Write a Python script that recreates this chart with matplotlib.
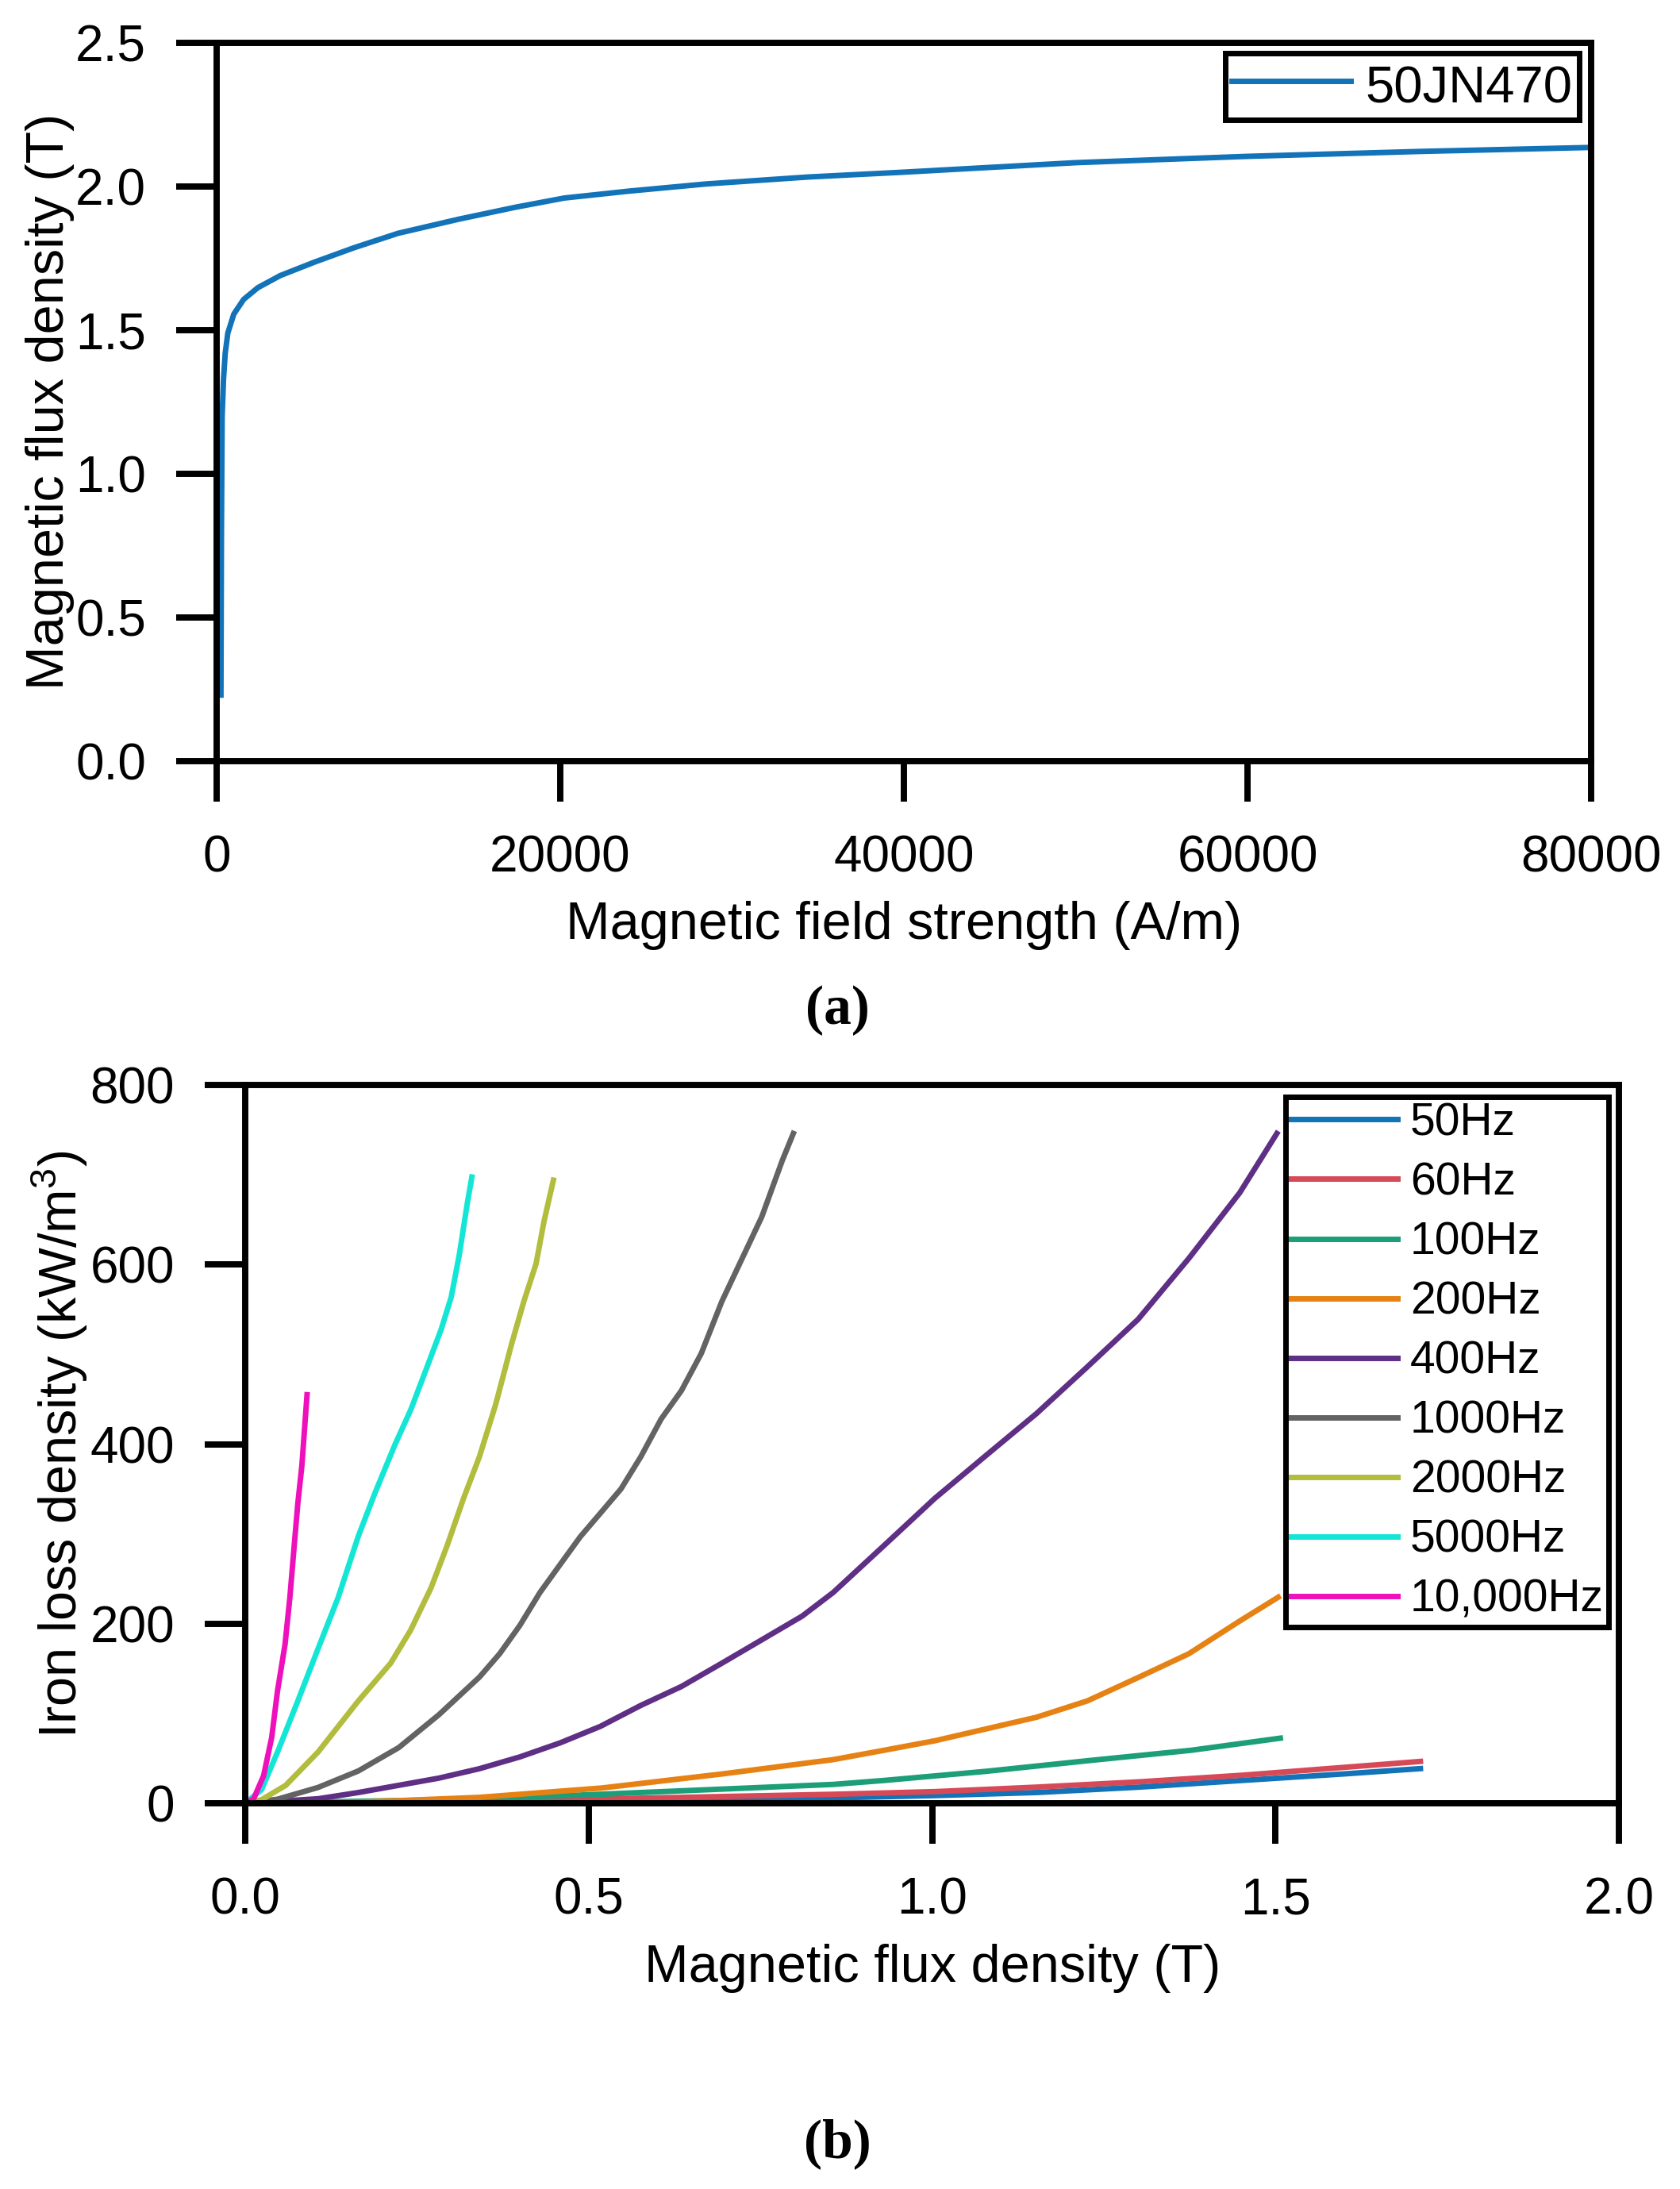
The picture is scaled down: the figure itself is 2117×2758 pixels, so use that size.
import numpy as np
import matplotlib
matplotlib.use('Agg')
import matplotlib.pyplot as plt
from matplotlib.ticker import FormatStrFormatter

plt.rcParams['font.family'] = ['Liberation Sans', 'DejaVu Sans']
plt.rcParams['mathtext.fontset'] = 'custom'
plt.rcParams['mathtext.rm'] = 'Liberation Sans'
plt.rcParams['mathtext.it'] = 'Liberation Sans:italic'

# (a) curva B-H del 50JN470
H_am = [250, 280, 320, 400, 500, 650, 1000, 1570, 2400, 3700, 5700, 8000, 10550,
        14070, 17400, 20240, 24000, 28500, 34400, 40000, 50000, 60000, 70000, 80000]
B_t = [0.23, 0.80, 1.20, 1.33, 1.42, 1.49, 1.556, 1.607, 1.648, 1.69, 1.737, 1.787, 1.837,
       1.886, 1.928, 1.96, 1.984, 2.009, 2.033, 2.05, 2.083, 2.105, 2.122, 2.136]

# (b) perdidas en el hierro por frecuencia
B50 = [0.0, 0.3, 0.5, 0.856, 1.005, 1.153, 1.302, 1.451, 1.6, 1.711]
P50 = [0.0, 1.5, 3.0, 6.0, 8.6, 12.0, 18.0, 25.4, 32.7, 38.6]
B60 = [0.0, 0.3, 0.5, 0.856, 1.005, 1.153, 1.302, 1.451, 1.6, 1.711]
P60 = [0.0, 2.0, 4.5, 10.0, 13.0, 18.0, 23.9, 31.2, 40.0, 46.6]
B100 = [0.0, 0.3, 0.5, 0.856, 0.930, 1.079, 1.228, 1.377, 1.507]
P100 = [0.0, 4.0, 9.5, 21.0, 25.4, 35.6, 47.5, 59.0, 72.5]
B200 = [0.0, 0.16, 0.341, 0.519, 0.696, 0.856, 0.930, 1.004, 1.078, 1.152, 1.226, 1.300, 1.374, 1.448, 1.504]
P200 = [0.0, 1.0, 6.6, 17.0, 32.8, 48.6, 59.0, 69.6, 82.7, 95.8, 114.0, 140.0, 166.6, 203.0, 229.5]
B400 = [0.0, 0.106, 0.165, 0.2235, 0.282, 0.341, 0.3998, 0.4586, 0.517, 0.576, 0.635, 0.694,
        0.752, 0.811, 0.856, 0.930, 1.004, 1.078, 1.152, 1.226, 1.300, 1.374, 1.448, 1.502]
P400 = [0.0, 5.0, 12.0, 20.0, 28.0, 38.5, 51.6, 67.3, 85.6, 109.0, 130.0, 156.0,
        182.0, 208.5, 234.7, 287.0, 339.6, 387.0, 434.0, 486.0, 539.0, 607.0, 680.0, 746.0]
B1000 = [0.0, 0.047, 0.106, 0.1647, 0.2235, 0.282, 0.341, 0.3705, 0.3998, 0.429, 0.4586, 0.488,
         0.517, 0.547, 0.576, 0.6056, 0.635, 0.664, 0.694, 0.723, 0.752, 0.782, 0.798]
P1000 = [0.0, 4.5, 17.6, 36.0, 62.0, 98.6, 140.5, 166.6, 198.0, 234.6, 266.0, 297.0,
         323.0, 350.0, 386.0, 428.0, 459.5, 501.0, 559.0, 606.0, 653.0, 716.0, 746.0]
B2000 = [0.0, 0.024, 0.059, 0.106, 0.1647, 0.2118, 0.241, 0.2706, 0.294, 0.3176, 0.341,
         0.3646, 0.388, 0.4057, 0.4235, 0.435, 0.4487]
P2000 = [0.0, 4.0, 20.0, 57.0, 114.0, 156.0, 193.0, 240.0, 287.0, 339.0, 386.0,
         444.0, 512.0, 559.0, 601.0, 648.0, 694.0]
B5000 = [0.0, 0.0237, 0.047, 0.0766, 0.106, 0.1355, 0.1647, 0.1884, 0.2178, 0.2412, 0.2648,
         0.2854, 0.300, 0.3117, 0.3235, 0.330]
P5000 = [0.0, 15.0, 57.0, 114.0, 172.0, 229.5, 297.5, 344.6, 399.0, 438.6, 486.0,
         528.0, 564.0, 611.0, 669.0, 697.5]
B10000 = [0.0, 0.012, 0.0267, 0.0385, 0.047, 0.058, 0.065, 0.0708, 0.0766, 0.0825, 0.090]
P10000 = [0.0, 4.5, 30.5, 73.0, 125.0, 177.0, 229.0, 282.0, 334.0, 376.0, 455.0]

series_b = [
    ('50Hz', B50, P50, '#1273B9'),
    ('60Hz', B60, P60, '#D64A58'),
    ('100Hz', B100, P100, '#1C9E78'),
    ('200Hz', B200, P200, '#E68214'),
    ('400Hz', B400, P400, '#5F2F86'),
    ('1000Hz', B1000, P1000, '#636363'),
    ('2000Hz', B2000, P2000, '#B2BC3D'),
    ('5000Hz', B5000, P5000, '#14E6D6'),
    ('10,000Hz', B10000, P10000, '#EE10BA'),
]

W, Hpx = 2117, 2758
fig = plt.figure(figsize=(W / 100, Hpx / 100), dpi=100)

ax1 = fig.add_axes([273 / W, 1 - 959 / Hpx, (2005 - 273) / W, 905 / Hpx])
ax2 = fig.add_axes([309 / W, 1 - 2272 / Hpx, (2040 - 309) / W, 905 / Hpx])

for ax in (ax1, ax2):
    for s in ax.spines.values():
        s.set_linewidth(5.7)
    ax.tick_params(direction='out', length=37, width=5.7, labelsize=46)
    ax.tick_params(axis='x', pad=29.5)
    ax.tick_params(axis='y', pad=27)

# grafica (a)
ax1.plot(H_am, B_t, color='#1273B9', lw=5, label='50JN470')
ax1.set_xlim(0, 80000)
ax1.set_ylim(0, 2.5)
ax1.set_xticks([0, 20000, 40000, 60000, 80000])
ax1.set_yticks([0, 0.5, 1.0, 1.5, 2.0, 2.5])
ax1.yaxis.set_major_formatter(FormatStrFormatter('%.1f'))
ax1.set_xlabel('Magnetic field strength (A/m)', fontsize=48, va='baseline')
ax1.xaxis.set_label_coords(1139 / W, 1 - 1183 / Hpx, transform=fig.transFigure)
ax1.set_ylabel('Magnetic flux density (T)', fontsize=48, va='baseline', rotation_mode='anchor')
ax1.yaxis.set_label_coords(80 / W, 1 - 506 / Hpx, transform=fig.transFigure)
leg1 = ax1.legend(loc='upper right', bbox_to_anchor=(1989.5 / W, 1 - 66.5 / Hpx),
                  bbox_transform=fig.transFigure, borderaxespad=0, fontsize=47,
                  fancybox=False, framealpha=1, edgecolor='black', borderpad=0.12,
                  handlelength=2.3, handleheight=1.2, handletextpad=0.29)
leg1.get_frame().set_linewidth(5)

# grafica (b)
for lab, bx, py, col in series_b:
    ax2.plot(bx, py, color=col, lw=5, label=lab)
ax2.set_xlim(0, 2.0)
ax2.set_ylim(0, 800)
ax2.set_xticks([0, 0.5, 1.0, 1.5, 2.0])
ax2.set_yticks([0, 200, 400, 600, 800])
ax2.xaxis.set_major_formatter(FormatStrFormatter('%.1f'))
ax2.set_xlabel('Magnetic flux density (T)', fontsize=48, va='baseline')
ax2.xaxis.set_label_coords(1175 / W, 1 - 2497 / Hpx, transform=fig.transFigure)
ax2.set_ylabel('Iron loss density (kW/m$^3$)', fontsize=48, va='baseline', rotation_mode='anchor')
ax2.yaxis.set_label_coords(97 / W, 1 - 1820 / Hpx, transform=fig.transFigure)
leg2 = ax2.legend(loc='upper right', bbox_to_anchor=(2027.5 / W, 1 - 1381.5 / Hpx),
                  bbox_transform=fig.transFigure, borderaxespad=0, fontsize=41,
                  fancybox=False, framealpha=1, edgecolor='black', borderpad=0.12,
                  handlelength=2.35, handletextpad=0.28, labelspacing=0.37)
leg2.get_frame().set_linewidth(5)

fig.text(1055 / W, 1 - 1290 / Hpx, '(a)', family='Liberation Serif', fontweight='bold',
         fontsize=50, ha='center', va='baseline')
fig.text(1055 / W, 1 - 2718 / Hpx, '(b)', family='Liberation Serif', fontweight='bold',
         fontsize=50, ha='center', va='baseline')

fig.savefig('out.png', dpi=100)
